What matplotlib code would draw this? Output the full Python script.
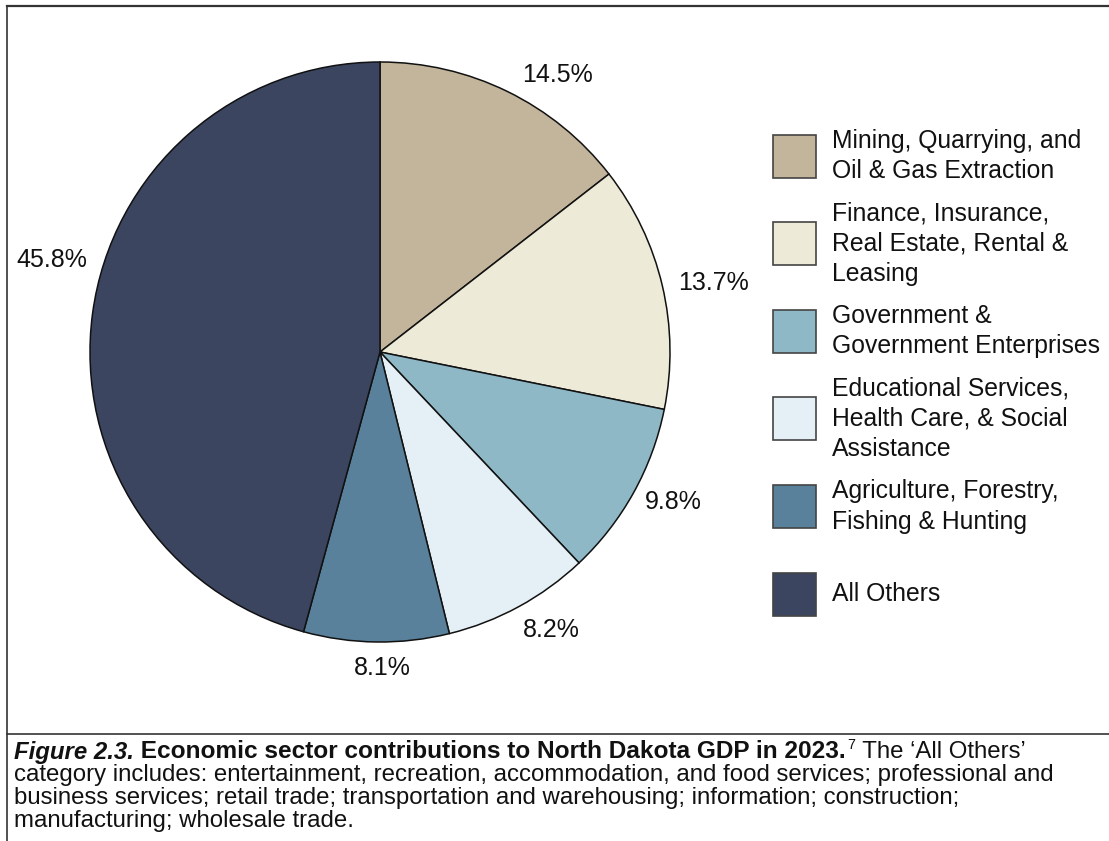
import numpy as np
import matplotlib
matplotlib.use("Agg")
import matplotlib.pyplot as plt
from matplotlib.patches import Rectangle
from matplotlib.lines import Line2D

plt.rcParams['font.family'] = ['Liberation Sans', 'DejaVu Sans']

# Sector shares of North Dakota GDP, 2023 (percent)
sectors = [
    "Mining, Quarrying, and\nOil & Gas Extraction",
    "Finance, Insurance,\nReal Estate, Rental &\nLeasing",
    "Government &\nGovernment Enterprises",
    "Educational Services,\nHealth Care, & Social\nAssistance",
    "Agriculture, Forestry,\nFishing & Hunting",
    "All Others",
]
shares = [14.5, 13.7, 9.8, 8.2, 8.1, 45.8]
colors = ["#C3B59B", "#EDEAD8", "#8FB8C7", "#E4EFF6", "#5A819B", "#3B4560"]

# label placement tweaks: (angle offset in degrees, radial distance)
label_tweaks = [(-6.5, 1.135), (-1.6, 1.175), (1.9, 1.135), (3.1, 1.125), (1.1, 1.09), (-8.1, 1.175)]

W, H = 1109, 841
fig = plt.figure(figsize=(W / 100, H / 100), dpi=100)

# pie axes: centre (380, 352) px, radius 290 px
cx, cy, r = 380, 352, 290
ax = fig.add_axes([(cx - r) / W, 1 - (cy + r) / H, 2 * r / W, 2 * r / H])

wedges, _ = ax.pie(shares, colors=colors, startangle=90, counterclock=False,
                   radius=1.0, wedgeprops=dict(edgecolor="#111111", linewidth=1.1))
ax.set_xlim(-1, 1)
ax.set_ylim(-1, 1)
ax.set_aspect("equal")
ax.axis("off")

for w, v, (da, dist) in zip(wedges, shares, label_tweaks):
    mid = np.deg2rad((w.theta1 + w.theta2) / 2 + da)
    ax.text(dist * np.cos(mid), dist * np.sin(mid), f"{v:.1f}%",
            ha="center", va="center", fontsize=18, color="#111111", clip_on=False)

# legend, drawn as swatches and text in figure pixel coordinates
lax = fig.add_axes([0, 0, 1, 1])
lax.set_xlim(0, W)
lax.set_ylim(H, 0)
lax.axis("off")
box = 43
y0, step = 156, 87.6
for i, (name, col) in enumerate(zip(sectors, colors)):
    yc = y0 + i * step
    lax.add_patch(Rectangle((773, yc - box / 2), box, box, facecolor=col,
                            edgecolor="#444444", linewidth=1.2))
    lax.text(832, yc, name, ha="left", va="center", fontsize=17.8,
             color="#111111", linespacing=1.33)

# frame lines
frame_col = "#333333"
lax.add_line(Line2D([7, W], [6, 6], color=frame_col, linewidth=1.6))
lax.add_line(Line2D([7, 7], [6, H], color=frame_col, linewidth=1.2))
lax.add_line(Line2D([7, W], [734, 734], color=frame_col, linewidth=1.2))

# caption with mixed styles on the first line
cap_size = 17.3
renderer = fig.canvas.get_renderer()
x = 14
y_first = 752
pieces = [
    ("Figure 2.3.", dict(fontweight="bold", fontstyle="italic"), 0),
    (" Economic sector contributions to North Dakota GDP in 2023.", dict(fontweight="bold"), 0.25),
]
for txt, style, extra in pieces:
    t = lax.text(x, y_first, txt, ha="left", va="center", fontsize=cap_size + extra,
                 color="#111111", **style)
    bb = t.get_window_extent(renderer=renderer)
    x += bb.width
t = lax.text(x + 2, y_first - 7, "7", ha="left", va="center", fontsize=cap_size * 0.6,
             color="#111111")
x += t.get_window_extent(renderer=renderer).width + 3
lax.text(x, y_first, " The \u2018All Others\u2019", ha="left", va="center",
         fontsize=cap_size, color="#111111")

rest = [
    "category includes: entertainment, recreation, accommodation, and food services; professional and",
    "business services; retail trade; transportation and warehousing; information; construction;",
    "manufacturing; wholesale trade.",
]
for k, line in enumerate(rest):
    lax.text(14, y_first + 23 * (k + 1), line, ha="left", va="center",
             fontsize=cap_size, color="#111111")

fig.savefig("out.png", dpi=100)
